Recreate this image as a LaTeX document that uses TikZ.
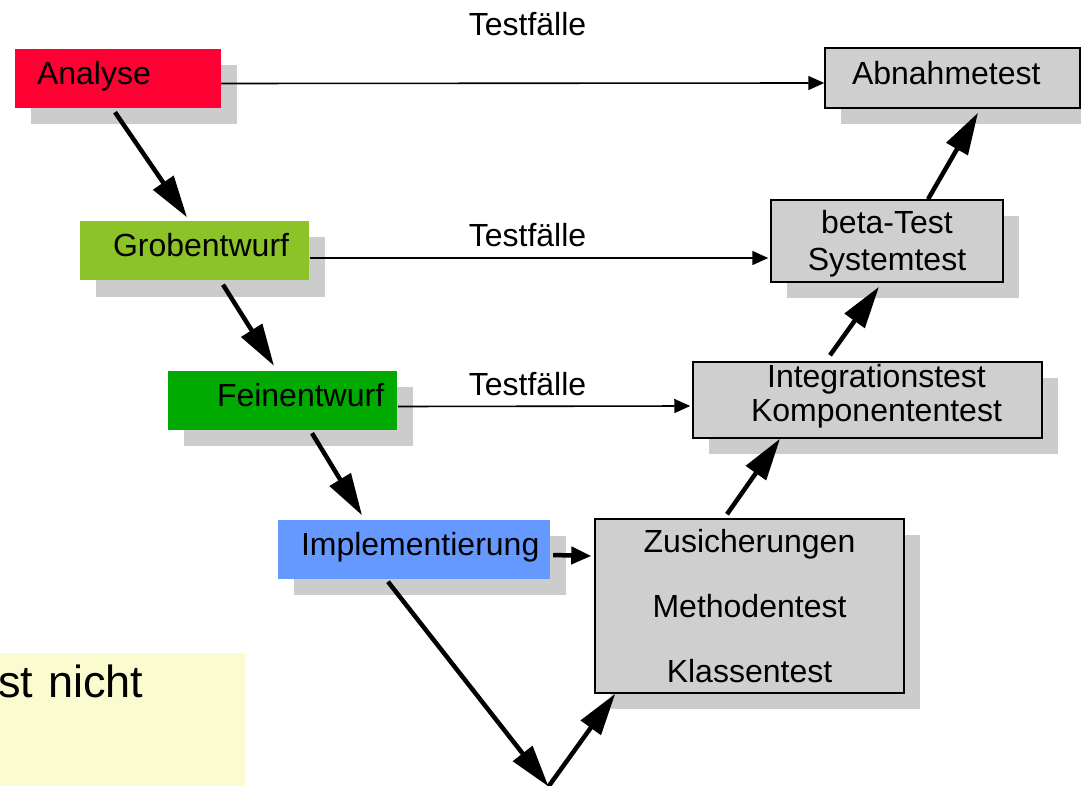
\documentclass[tikz,border=0pt]{standalone}
\usepackage{fontspec}
\setmainfont{Liberation Sans}
\usetikzlibrary{arrows.meta,shadows}
\definecolor{anared}{RGB}{255,0,51}
\definecolor{grobgreen}{RGB}{139,195,41}
\definecolor{feingreen}{RGB}{0,170,0}
\definecolor{implblue}{RGB}{102,153,255}
\definecolor{testgray}{RGB}{207,207,207}
\definecolor{shadowgray}{RGB}{204,204,204}
\definecolor{notey}{RGB}{251,251,208}

\begin{document}
\begin{tikzpicture}[x=1pt,y=-1pt,
  font=\fontsize{32}{34}\selectfont,
  every node/.style={inner sep=0pt},
  boxshadow/.style={drop shadow={shadow xshift=16pt, shadow yshift=-16pt,
    fill=shadowgray, opacity=1}},
  phase/.style={boxshadow, minimum height=59pt, text height=23pt,
    text depth=11pt, align=left},
  test/.style={boxshadow, draw, line width=1.5pt, fill=testgray, align=center},
  flow/.style={line width=1.6pt, -{Triangle[length=16pt,width=14pt]}},
  midflow/.style={line width=4.5pt, -{Triangle[length=20pt,width=17pt]}},
  bigarrow/.style={line width=4.5pt, -{Triangle[length=42pt,width=24pt]}},
  lbl/.style={anchor=base}]
  \useasboundingbox (0,0) rectangle (1081,786);
  \clip (0,0) rectangle (1081,786);

  \node[fill=notey, anchor=north west, text width=247pt, align=left,
    font=\fontsize{45}{50}\selectfont, text height=44pt, text depth=89pt]
    (hint) at (-2,653) {st nicht};

  \node[phase, fill=anared, text width=206pt] (ana) at (118,78.5) {\hspace*{22pt}Analyse};
  \node[phase, fill=grobgreen, text width=229pt] (grob) at (194.5,251) {\hspace*{33pt}Grobentwurf};
  \node[phase, fill=feingreen, text width=229pt] (fein) at (282.5,400.5) {\hspace*{49pt}Feinentwurf};
  \node[phase, fill=implblue, text width=272pt] (impl) at (414,549) {\hspace*{23pt}Implementierung};

  \node[test, text width=255pt, align=left, text height=23pt, text depth=9pt,
    minimum height=60pt] (abn) at (952.5,78) {\hspace*{27pt}Abnahmetest};
  \node[test, minimum width=232pt, minimum height=82pt, text depth=1pt,
    font=\fontsize{32}{37}\selectfont] (beta) at (887,241) {beta-Test\\Systemtest};
  \node[test, minimum width=349pt, minimum height=76pt, text depth=15pt]
    (integ) at (867.5,400) {\hspace*{18pt}Integrationstest\\\hspace*{18pt}Komponententest};
  \node[test, minimum width=309pt, minimum height=174pt,
    font=\fontsize{32}{65}\selectfont]
    (zus) at (749.5,606) {Zusicherungen\\Methodentest\\Klassentest};

  \coordinate (v) at (548.5,786.5);

  \node[lbl] (tf1) at (527.5,36) {Testfälle};
  \node[lbl] (tf2) at (527.5,247) {Testfälle};
  \node[lbl] (tf3) at (527.5,395) {Testfälle};

  \draw[flow] ([yshift=-5pt]ana.east) -- ([yshift=-5pt]abn.west);
  \draw[flow] ([xshift=1pt,yshift=-7pt]grob.east) -- ([xshift=-2pt,yshift=-17pt]beta.west);
  \draw[flow] ([xshift=1pt,yshift=-6pt]fein.east) -- ([xshift=-2pt,yshift=-6pt]integ.west);
  \draw[midflow] ([xshift=3pt,yshift=-6pt]impl.east) -- ([xshift=-3pt,yshift=50pt]zus.west);

  \draw[bigarrow] ([xshift=-3pt,yshift=-4pt]ana.south) -- ([xshift=-7.5pt,yshift=4pt]grob.north);
  \draw[bigarrow] ([xshift=28.5pt,yshift=-4pt]grob.south) -- ([xshift=-8.5pt,yshift=5pt]fein.north);
  \draw[bigarrow] ([xshift=29.5pt,yshift=-3pt]fein.south) -- ([xshift=-52pt,yshift=4pt]impl.north);
  \draw[bigarrow] ([xshift=-26pt,yshift=-3pt]impl.south) -- (v);
  \draw[bigarrow] (v) -- ([xshift=21pt]zus.south west);
  \draw[bigarrow] ([xshift=-22.5pt,yshift=4pt]zus.north) -- ([xshift=-87.5pt]integ.south);
  \draw[bigarrow] ([xshift=-37.5pt,yshift=6pt]integ.north) -- ([xshift=-8pt,yshift=-4pt]beta.south);
  \draw[bigarrow] ([xshift=41pt]beta.north) -- ([xshift=25.5pt,yshift=-4pt]abn.south);
\end{tikzpicture}
\end{document}
